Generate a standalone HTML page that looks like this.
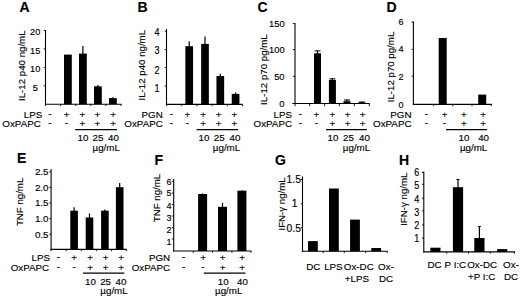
<!DOCTYPE html>
<html><head><meta charset="utf-8"><style>
html,body{margin:0;padding:0;background:#fff;width:520px;height:298px;overflow:hidden}
svg{display:block}
text{font-family:"Liberation Sans", sans-serif;fill:#000;stroke:#000;stroke-width:0.15px}
line{stroke:#000}
rect{fill:#000}
</style></head><body>
<svg width="520" height="298" viewBox="0 0 520 298">
<text x="19.60" y="11.80" font-size="14" text-anchor="start" font-weight="bold">A</text>
<line x1="45.50" y1="30.00" x2="45.50" y2="104.75" stroke-width="1.1"/>
<line x1="44.95" y1="104.20" x2="121.60" y2="104.20" stroke-width="1.1"/>
<line x1="43.70" y1="30.50" x2="45.50" y2="30.50" stroke-width="0.9"/>
<line x1="43.70" y1="48.90" x2="45.50" y2="48.90" stroke-width="0.9"/>
<line x1="43.70" y1="67.40" x2="45.50" y2="67.40" stroke-width="0.9"/>
<line x1="43.70" y1="85.80" x2="45.50" y2="85.80" stroke-width="0.9"/>
<text font-size="9.2" text-anchor="middle" font-weight="normal" transform="translate(35.20,35.40) scale(1.0,1.03)">20</text>
<text font-size="9.2" text-anchor="middle" font-weight="normal" transform="translate(35.20,53.50) scale(1.0,1.03)">15</text>
<text font-size="9.2" text-anchor="middle" font-weight="normal" transform="translate(35.20,72.20) scale(1.0,1.03)">10</text>
<text font-size="9.2" text-anchor="middle" font-weight="normal" transform="translate(35.20,90.70) scale(1.0,1.03)">5</text>
<line x1="45.50" y1="104.20" x2="45.50" y2="106.00" stroke-width="0.9"/>
<line x1="60.60" y1="104.20" x2="60.60" y2="106.00" stroke-width="0.9"/>
<line x1="75.70" y1="104.20" x2="75.70" y2="106.00" stroke-width="0.9"/>
<line x1="90.80" y1="104.20" x2="90.80" y2="106.00" stroke-width="0.9"/>
<line x1="105.90" y1="104.20" x2="105.90" y2="106.00" stroke-width="0.9"/>
<line x1="121.00" y1="104.20" x2="121.00" y2="106.00" stroke-width="0.9"/>
<rect x="64.00" y="54.60" width="7.80" height="49.60"/>
<rect x="79.00" y="53.60" width="7.80" height="50.60"/>
<rect x="94.00" y="86.30" width="7.80" height="17.90"/>
<rect x="109.00" y="98.10" width="7.80" height="6.10"/>
<line x1="82.90" y1="46.00" x2="82.90" y2="54.10" stroke-width="1.2"/>
<line x1="97.90" y1="85.00" x2="97.90" y2="86.80" stroke-width="1.2"/>
<line x1="112.90" y1="97.30" x2="112.90" y2="98.60" stroke-width="1.2"/>
<text font-size="9.7" text-anchor="middle" transform="translate(24.80,65.70) rotate(-90) scale(1,1.0)">IL-12 p40 ng/mL</text>
<text font-size="9.8" text-anchor="end" font-weight="normal" transform="translate(42.20,117.50) scale(1.0,0.93)">LPS</text>
<text font-size="9.8" text-anchor="middle" font-weight="normal" transform="translate(50.00,116.70) scale(1.0,0.93)">-</text>
<text font-size="9.8" text-anchor="middle" font-weight="normal" transform="translate(66.50,117.50) scale(1.0,0.93)">+</text>
<text font-size="9.8" text-anchor="middle" font-weight="normal" transform="translate(82.30,117.50) scale(1.0,0.93)">+</text>
<text font-size="9.8" text-anchor="middle" font-weight="normal" transform="translate(97.40,117.50) scale(1.0,0.93)">+</text>
<text font-size="9.8" text-anchor="middle" font-weight="normal" transform="translate(113.00,117.50) scale(1.0,0.93)">+</text>
<text font-size="9.8" text-anchor="end" font-weight="normal" transform="translate(40.80,127.00) scale(1.0,0.93)">OxPAPC</text>
<text font-size="9.8" text-anchor="middle" font-weight="normal" transform="translate(50.00,126.20) scale(1.0,0.93)">-</text>
<text font-size="9.8" text-anchor="middle" font-weight="normal" transform="translate(66.50,126.20) scale(1.0,0.93)">-</text>
<text font-size="9.8" text-anchor="middle" font-weight="normal" transform="translate(82.30,127.00) scale(1.0,0.93)">+</text>
<text font-size="9.8" text-anchor="middle" font-weight="normal" transform="translate(97.40,127.00) scale(1.0,0.93)">+</text>
<text font-size="9.8" text-anchor="middle" font-weight="normal" transform="translate(113.00,127.00) scale(1.0,0.93)">+</text>
<line x1="75.20" y1="129.70" x2="117.00" y2="129.70" stroke-width="1.3"/>
<text font-size="9.8" text-anchor="middle" font-weight="normal" transform="translate(83.00,140.60) scale(1.0,0.93)">10</text>
<text font-size="9.8" text-anchor="middle" font-weight="normal" transform="translate(98.00,140.60) scale(1.0,0.93)">25</text>
<text font-size="9.8" text-anchor="middle" font-weight="normal" transform="translate(113.50,140.60) scale(1.0,0.93)">40</text>
<text font-size="9.8" text-anchor="middle" font-weight="normal" transform="translate(106.20,150.80) scale(1.0,0.93)">&#181;g/mL</text>
<text x="137.60" y="11.80" font-size="14" text-anchor="start" font-weight="bold">B</text>
<line x1="166.50" y1="29.00" x2="166.50" y2="104.95" stroke-width="1.1"/>
<line x1="165.95" y1="104.40" x2="242.60" y2="104.40" stroke-width="1.1"/>
<line x1="164.70" y1="31.30" x2="166.50" y2="31.30" stroke-width="0.9"/>
<line x1="164.70" y1="49.60" x2="166.50" y2="49.60" stroke-width="0.9"/>
<line x1="164.70" y1="67.60" x2="166.50" y2="67.60" stroke-width="0.9"/>
<line x1="164.70" y1="86.00" x2="166.50" y2="86.00" stroke-width="0.9"/>
<text font-size="9.0" text-anchor="end" font-weight="normal" transform="translate(159.60,35.60) scale(1.0,1.2)">4</text>
<text font-size="9.0" text-anchor="end" font-weight="normal" transform="translate(159.60,54.10) scale(1.0,1.2)">3</text>
<text font-size="9.0" text-anchor="end" font-weight="normal" transform="translate(159.60,73.60) scale(1.0,1.2)">2</text>
<text font-size="9.0" text-anchor="end" font-weight="normal" transform="translate(159.60,91.60) scale(1.0,1.2)">1</text>
<line x1="166.50" y1="104.40" x2="166.50" y2="106.20" stroke-width="0.9"/>
<line x1="181.72" y1="104.40" x2="181.72" y2="106.20" stroke-width="0.9"/>
<line x1="196.94" y1="104.40" x2="196.94" y2="106.20" stroke-width="0.9"/>
<line x1="212.16" y1="104.40" x2="212.16" y2="106.20" stroke-width="0.9"/>
<line x1="227.38" y1="104.40" x2="227.38" y2="106.20" stroke-width="0.9"/>
<line x1="242.60" y1="104.40" x2="242.60" y2="106.20" stroke-width="0.9"/>
<rect x="185.35" y="46.20" width="7.70" height="58.20"/>
<rect x="201.15" y="43.90" width="7.70" height="60.50"/>
<rect x="216.45" y="76.00" width="7.70" height="28.40"/>
<rect x="231.75" y="93.90" width="7.70" height="10.50"/>
<line x1="189.20" y1="41.20" x2="189.20" y2="46.70" stroke-width="1.2"/>
<line x1="205.00" y1="36.50" x2="205.00" y2="44.40" stroke-width="1.2"/>
<line x1="220.30" y1="73.70" x2="220.30" y2="76.50" stroke-width="1.2"/>
<line x1="235.60" y1="92.60" x2="235.60" y2="94.40" stroke-width="1.2"/>
<text font-size="9.7" text-anchor="middle" transform="translate(144.60,65.20) rotate(-90) scale(1,1.0)">IL-12 p40 ng/mL</text>
<text font-size="9.8" text-anchor="end" font-weight="normal" transform="translate(162.80,117.50) scale(1.0,0.93)">PGN</text>
<text font-size="9.8" text-anchor="middle" font-weight="normal" transform="translate(171.50,116.70) scale(1.0,0.93)">-</text>
<text font-size="9.8" text-anchor="middle" font-weight="normal" transform="translate(187.30,117.50) scale(1.0,0.93)">+</text>
<text font-size="9.8" text-anchor="middle" font-weight="normal" transform="translate(203.00,117.50) scale(1.0,0.93)">+</text>
<text font-size="9.8" text-anchor="middle" font-weight="normal" transform="translate(218.50,117.50) scale(1.0,0.93)">+</text>
<text font-size="9.8" text-anchor="middle" font-weight="normal" transform="translate(234.30,117.50) scale(1.0,0.93)">+</text>
<text font-size="9.8" text-anchor="end" font-weight="normal" transform="translate(162.80,127.00) scale(1.0,0.93)">OxPAPC</text>
<text font-size="9.8" text-anchor="middle" font-weight="normal" transform="translate(171.50,126.20) scale(1.0,0.93)">-</text>
<text font-size="9.8" text-anchor="middle" font-weight="normal" transform="translate(187.30,126.20) scale(1.0,0.93)">-</text>
<text font-size="9.8" text-anchor="middle" font-weight="normal" transform="translate(203.00,127.00) scale(1.0,0.93)">+</text>
<text font-size="9.8" text-anchor="middle" font-weight="normal" transform="translate(218.50,127.00) scale(1.0,0.93)">+</text>
<text font-size="9.8" text-anchor="middle" font-weight="normal" transform="translate(234.30,127.00) scale(1.0,0.93)">+</text>
<line x1="196.60" y1="129.70" x2="238.00" y2="129.70" stroke-width="1.3"/>
<text font-size="9.8" text-anchor="middle" font-weight="normal" transform="translate(204.00,140.60) scale(1.0,0.93)">10</text>
<text font-size="9.8" text-anchor="middle" font-weight="normal" transform="translate(219.20,140.60) scale(1.0,0.93)">25</text>
<text font-size="9.8" text-anchor="middle" font-weight="normal" transform="translate(234.90,140.60) scale(1.0,0.93)">40</text>
<text font-size="9.8" text-anchor="middle" font-weight="normal" transform="translate(226.50,150.80) scale(1.0,0.93)">&#181;g/mL</text>
<text x="257.60" y="11.80" font-size="14" text-anchor="start" font-weight="bold">C</text>
<line x1="295.00" y1="23.00" x2="295.00" y2="104.05" stroke-width="1.1"/>
<line x1="292.40" y1="103.50" x2="369.80" y2="103.50" stroke-width="1.1"/>
<line x1="292.80" y1="23.60" x2="295.00" y2="23.60" stroke-width="0.9"/>
<line x1="292.80" y1="49.60" x2="295.00" y2="49.60" stroke-width="0.9"/>
<line x1="292.80" y1="76.30" x2="295.00" y2="76.30" stroke-width="0.9"/>
<text font-size="9.4" text-anchor="end" font-weight="normal" transform="translate(284.60,26.60) scale(1.0,1.05)">150</text>
<text font-size="9.4" text-anchor="end" font-weight="normal" transform="translate(284.60,52.90) scale(1.0,1.05)">100</text>
<text font-size="9.4" text-anchor="end" font-weight="normal" transform="translate(284.60,79.60) scale(1.0,1.05)">50</text>
<text font-size="9.4" text-anchor="end" font-weight="normal" transform="translate(284.60,106.60) scale(1.0,1.05)">0</text>
<line x1="295.00" y1="103.50" x2="295.00" y2="106.30" stroke-width="0.9"/>
<line x1="309.70" y1="103.50" x2="309.70" y2="106.30" stroke-width="0.9"/>
<line x1="324.60" y1="103.50" x2="324.60" y2="106.30" stroke-width="0.9"/>
<line x1="339.30" y1="103.50" x2="339.30" y2="106.30" stroke-width="0.9"/>
<line x1="354.30" y1="103.50" x2="354.30" y2="106.30" stroke-width="0.9"/>
<line x1="369.30" y1="103.50" x2="369.30" y2="106.30" stroke-width="0.9"/>
<rect x="314.00" y="53.30" width="7.00" height="50.20"/>
<rect x="328.90" y="79.90" width="7.00" height="23.60"/>
<rect x="343.50" y="101.20" width="7.00" height="2.30"/>
<rect x="358.40" y="102.30" width="7.00" height="1.20"/>
<line x1="317.50" y1="50.40" x2="317.50" y2="53.80" stroke-width="1.2"/>
<line x1="314.50" y1="50.90" x2="320.50" y2="50.90" stroke-width="1.0"/>
<line x1="332.40" y1="78.30" x2="332.40" y2="80.40" stroke-width="1.2"/>
<line x1="329.40" y1="78.80" x2="335.40" y2="78.80" stroke-width="1.0"/>
<line x1="347.00" y1="99.50" x2="347.00" y2="101.70" stroke-width="1.2"/>
<line x1="344.00" y1="100.00" x2="350.00" y2="100.00" stroke-width="1.0"/>
<line x1="361.90" y1="101.60" x2="361.90" y2="102.80" stroke-width="1.2"/>
<line x1="358.90" y1="102.10" x2="364.90" y2="102.10" stroke-width="1.0"/>
<text font-size="9.7" text-anchor="middle" transform="translate(267.00,69.60) rotate(-90) scale(1,1.0)">IL-12 p70 pg/mL</text>
<text font-size="9.8" text-anchor="end" font-weight="normal" transform="translate(292.00,117.50) scale(1.0,0.93)">LPS</text>
<text font-size="9.8" text-anchor="middle" font-weight="normal" transform="translate(300.30,116.70) scale(1.0,0.93)">-</text>
<text font-size="9.8" text-anchor="middle" font-weight="normal" transform="translate(316.40,117.50) scale(1.0,0.93)">+</text>
<text font-size="9.8" text-anchor="middle" font-weight="normal" transform="translate(332.30,117.50) scale(1.0,0.93)">+</text>
<text font-size="9.8" text-anchor="middle" font-weight="normal" transform="translate(347.50,117.50) scale(1.0,0.93)">+</text>
<text font-size="9.8" text-anchor="middle" font-weight="normal" transform="translate(362.50,117.50) scale(1.0,0.93)">+</text>
<text font-size="9.8" text-anchor="end" font-weight="normal" transform="translate(292.00,127.00) scale(1.0,0.93)">OxPAPC</text>
<text font-size="9.8" text-anchor="middle" font-weight="normal" transform="translate(300.30,126.20) scale(1.0,0.93)">-</text>
<text font-size="9.8" text-anchor="middle" font-weight="normal" transform="translate(316.40,126.20) scale(1.0,0.93)">-</text>
<text font-size="9.8" text-anchor="middle" font-weight="normal" transform="translate(332.30,127.00) scale(1.0,0.93)">+</text>
<text font-size="9.8" text-anchor="middle" font-weight="normal" transform="translate(347.50,127.00) scale(1.0,0.93)">+</text>
<text font-size="9.8" text-anchor="middle" font-weight="normal" transform="translate(362.50,127.00) scale(1.0,0.93)">+</text>
<line x1="326.00" y1="129.70" x2="367.00" y2="129.70" stroke-width="1.3"/>
<text font-size="9.8" text-anchor="middle" font-weight="normal" transform="translate(333.00,140.60) scale(1.0,0.93)">10</text>
<text font-size="9.8" text-anchor="middle" font-weight="normal" transform="translate(348.50,140.60) scale(1.0,0.93)">25</text>
<text font-size="9.8" text-anchor="middle" font-weight="normal" transform="translate(364.50,140.60) scale(1.0,0.93)">40</text>
<text font-size="9.8" text-anchor="middle" font-weight="normal" transform="translate(356.50,150.80) scale(1.0,0.93)">&#181;g/mL</text>
<text x="386.50" y="11.80" font-size="14" text-anchor="start" font-weight="bold">D</text>
<line x1="413.40" y1="21.40" x2="413.40" y2="104.95" stroke-width="1.1"/>
<line x1="412.85" y1="104.40" x2="491.80" y2="104.40" stroke-width="1.1"/>
<line x1="411.60" y1="22.10" x2="413.40" y2="22.10" stroke-width="0.9"/>
<line x1="411.60" y1="49.40" x2="413.40" y2="49.40" stroke-width="0.9"/>
<line x1="411.60" y1="76.20" x2="413.40" y2="76.20" stroke-width="0.9"/>
<text font-size="9.0" text-anchor="end" font-weight="normal" transform="translate(403.40,24.80) scale(1.0,1.05)">6</text>
<text font-size="9.0" text-anchor="end" font-weight="normal" transform="translate(403.40,52.30) scale(1.0,1.05)">4</text>
<text font-size="9.0" text-anchor="end" font-weight="normal" transform="translate(403.40,79.70) scale(1.0,1.05)">2</text>
<text font-size="9.0" text-anchor="end" font-weight="normal" transform="translate(403.40,107.50) scale(1.0,1.05)">0</text>
<line x1="433.70" y1="104.40" x2="433.70" y2="106.20" stroke-width="0.9"/>
<line x1="452.70" y1="104.40" x2="452.70" y2="106.20" stroke-width="0.9"/>
<line x1="472.00" y1="104.40" x2="472.00" y2="106.20" stroke-width="0.9"/>
<line x1="491.30" y1="104.40" x2="491.30" y2="106.20" stroke-width="0.9"/>
<rect x="438.70" y="38.00" width="8.00" height="66.40"/>
<rect x="478.20" y="94.60" width="8.00" height="9.80"/>
<text font-size="9.7" text-anchor="middle" transform="translate(394.20,67.00) rotate(-90) scale(1,1.0)">IL-12 p70 pg/mL</text>
<text font-size="9.8" text-anchor="end" font-weight="normal" transform="translate(411.50,117.50) scale(1.0,0.93)">PGN</text>
<text font-size="9.8" text-anchor="middle" font-weight="normal" transform="translate(426.30,116.70) scale(1.0,0.93)">-</text>
<text font-size="9.8" text-anchor="middle" font-weight="normal" transform="translate(444.50,117.50) scale(1.0,0.93)">+</text>
<text font-size="9.8" text-anchor="middle" font-weight="normal" transform="translate(463.80,117.50) scale(1.0,0.93)">+</text>
<text font-size="9.8" text-anchor="middle" font-weight="normal" transform="translate(483.00,117.50) scale(1.0,0.93)">+</text>
<text font-size="9.8" text-anchor="end" font-weight="normal" transform="translate(411.50,127.00) scale(1.0,0.93)">OxPAPC</text>
<text font-size="9.8" text-anchor="middle" font-weight="normal" transform="translate(426.30,126.20) scale(1.0,0.93)">-</text>
<text font-size="9.8" text-anchor="middle" font-weight="normal" transform="translate(444.50,126.20) scale(1.0,0.93)">-</text>
<text font-size="9.8" text-anchor="middle" font-weight="normal" transform="translate(463.80,127.00) scale(1.0,0.93)">+</text>
<text font-size="9.8" text-anchor="middle" font-weight="normal" transform="translate(483.00,127.00) scale(1.0,0.93)">+</text>
<line x1="446.00" y1="129.70" x2="487.20" y2="129.70" stroke-width="1.3"/>
<text font-size="9.8" text-anchor="middle" font-weight="normal" transform="translate(464.00,140.60) scale(1.0,0.93)">10</text>
<text font-size="9.8" text-anchor="middle" font-weight="normal" transform="translate(483.60,140.60) scale(1.0,0.93)">40</text>
<text font-size="9.8" text-anchor="middle" font-weight="normal" transform="translate(473.60,151.20) scale(1.0,0.93)">&#181;g/mL</text>
<text x="17.00" y="163.30" font-size="14" text-anchor="start" font-weight="bold">E</text>
<line x1="51.10" y1="169.00" x2="51.10" y2="249.95" stroke-width="1.1"/>
<line x1="50.55" y1="249.40" x2="126.60" y2="249.40" stroke-width="1.1"/>
<line x1="49.30" y1="171.80" x2="51.10" y2="171.80" stroke-width="0.9"/>
<line x1="49.30" y1="187.40" x2="51.10" y2="187.40" stroke-width="0.9"/>
<line x1="49.30" y1="203.00" x2="51.10" y2="203.00" stroke-width="0.9"/>
<line x1="49.30" y1="218.60" x2="51.10" y2="218.60" stroke-width="0.9"/>
<line x1="49.30" y1="234.20" x2="51.10" y2="234.20" stroke-width="0.9"/>
<text x="48.50" y="174.90" font-size="9.8" text-anchor="end" font-weight="normal">2.5</text>
<text x="48.50" y="190.60" font-size="9.8" text-anchor="end" font-weight="normal">2.0</text>
<text x="48.50" y="206.10" font-size="9.8" text-anchor="end" font-weight="normal">1.5</text>
<text x="48.50" y="222.10" font-size="9.8" text-anchor="end" font-weight="normal">1.0</text>
<text x="48.50" y="238.40" font-size="9.8" text-anchor="end" font-weight="normal">0.5</text>
<line x1="51.10" y1="249.40" x2="51.10" y2="251.20" stroke-width="0.9"/>
<line x1="66.20" y1="249.40" x2="66.20" y2="251.20" stroke-width="0.9"/>
<line x1="81.30" y1="249.40" x2="81.30" y2="251.20" stroke-width="0.9"/>
<line x1="96.40" y1="249.40" x2="96.40" y2="251.20" stroke-width="0.9"/>
<line x1="111.50" y1="249.40" x2="111.50" y2="251.20" stroke-width="0.9"/>
<line x1="126.60" y1="249.40" x2="126.60" y2="251.20" stroke-width="0.9"/>
<rect x="70.30" y="210.70" width="7.60" height="38.70"/>
<rect x="85.70" y="217.50" width="7.60" height="31.90"/>
<rect x="101.10" y="210.70" width="7.60" height="38.70"/>
<rect x="115.90" y="187.20" width="7.60" height="62.20"/>
<line x1="74.10" y1="207.30" x2="74.10" y2="211.20" stroke-width="1.2"/>
<line x1="89.50" y1="213.50" x2="89.50" y2="218.00" stroke-width="1.2"/>
<line x1="104.90" y1="209.60" x2="104.90" y2="211.20" stroke-width="1.2"/>
<line x1="119.70" y1="182.90" x2="119.70" y2="187.70" stroke-width="1.2"/>
<text font-size="9.7" text-anchor="middle" transform="translate(22.60,201.90) rotate(-90) scale(1,1.0)">TNF ng/mL</text>
<text font-size="9.8" text-anchor="end" font-weight="normal" transform="translate(50.00,260.70) scale(1.0,0.93)">LPS</text>
<text font-size="9.8" text-anchor="middle" font-weight="normal" transform="translate(58.30,259.90) scale(1.0,0.93)">-</text>
<text font-size="9.8" text-anchor="middle" font-weight="normal" transform="translate(74.20,260.70) scale(1.0,0.93)">+</text>
<text font-size="9.8" text-anchor="middle" font-weight="normal" transform="translate(90.00,260.70) scale(1.0,0.93)">+</text>
<text font-size="9.8" text-anchor="middle" font-weight="normal" transform="translate(105.60,260.70) scale(1.0,0.93)">+</text>
<text font-size="9.8" text-anchor="middle" font-weight="normal" transform="translate(121.20,260.70) scale(1.0,0.93)">+</text>
<text font-size="9.8" text-anchor="end" font-weight="normal" transform="translate(49.20,270.80) scale(1.0,0.93)">OxPAPC</text>
<text font-size="9.8" text-anchor="middle" font-weight="normal" transform="translate(58.30,270.00) scale(1.0,0.93)">-</text>
<text font-size="9.8" text-anchor="middle" font-weight="normal" transform="translate(74.20,270.00) scale(1.0,0.93)">-</text>
<text font-size="9.8" text-anchor="middle" font-weight="normal" transform="translate(90.00,270.80) scale(1.0,0.93)">+</text>
<text font-size="9.8" text-anchor="middle" font-weight="normal" transform="translate(105.60,270.80) scale(1.0,0.93)">+</text>
<text font-size="9.8" text-anchor="middle" font-weight="normal" transform="translate(121.20,270.80) scale(1.0,0.93)">+</text>
<line x1="83.00" y1="273.20" x2="124.30" y2="273.20" stroke-width="1.3"/>
<text font-size="9.8" text-anchor="middle" font-weight="normal" transform="translate(90.50,285.20) scale(1.0,0.93)">10</text>
<text font-size="9.8" text-anchor="middle" font-weight="normal" transform="translate(105.60,285.20) scale(1.0,0.93)">25</text>
<text font-size="9.8" text-anchor="middle" font-weight="normal" transform="translate(121.00,285.20) scale(1.0,0.93)">40</text>
<text font-size="9.8" text-anchor="middle" font-weight="normal" transform="translate(114.00,294.00) scale(1.0,0.93)">&#181;g/mL</text>
<text x="154.50" y="165.10" font-size="14" text-anchor="start" font-weight="bold">F</text>
<line x1="173.70" y1="179.00" x2="173.70" y2="251.55" stroke-width="1.1"/>
<line x1="173.15" y1="251.00" x2="251.20" y2="251.00" stroke-width="1.1"/>
<line x1="171.90" y1="181.40" x2="173.70" y2="181.40" stroke-width="0.9"/>
<line x1="171.90" y1="193.00" x2="173.70" y2="193.00" stroke-width="0.9"/>
<line x1="171.90" y1="204.50" x2="173.70" y2="204.50" stroke-width="0.9"/>
<line x1="171.90" y1="216.00" x2="173.70" y2="216.00" stroke-width="0.9"/>
<line x1="171.90" y1="227.50" x2="173.70" y2="227.50" stroke-width="0.9"/>
<line x1="171.90" y1="239.10" x2="173.70" y2="239.10" stroke-width="0.9"/>
<text font-size="9.0" text-anchor="end" font-weight="normal" transform="translate(171.60,184.90) scale(1.0,1.1)">6</text>
<text font-size="9.0" text-anchor="end" font-weight="normal" transform="translate(171.60,196.30) scale(1.0,1.1)">5</text>
<text font-size="9.0" text-anchor="end" font-weight="normal" transform="translate(171.60,209.20) scale(1.0,1.1)">4</text>
<text font-size="9.0" text-anchor="end" font-weight="normal" transform="translate(171.60,221.30) scale(1.0,1.1)">3</text>
<text font-size="9.0" text-anchor="end" font-weight="normal" transform="translate(171.60,232.90) scale(1.0,1.1)">2</text>
<text font-size="9.0" text-anchor="end" font-weight="normal" transform="translate(171.60,245.00) scale(1.0,1.1)">1</text>
<line x1="193.20" y1="251.00" x2="193.20" y2="252.80" stroke-width="0.9"/>
<line x1="212.50" y1="251.00" x2="212.50" y2="252.80" stroke-width="0.9"/>
<line x1="231.90" y1="251.00" x2="231.90" y2="252.80" stroke-width="0.9"/>
<line x1="251.00" y1="251.00" x2="251.00" y2="252.80" stroke-width="0.9"/>
<rect x="198.10" y="194.00" width="9.00" height="57.00"/>
<rect x="218.00" y="206.80" width="9.00" height="44.20"/>
<rect x="237.40" y="190.70" width="9.00" height="60.30"/>
<line x1="202.60" y1="193.50" x2="202.60" y2="194.50" stroke-width="1.2"/>
<line x1="222.50" y1="202.80" x2="222.50" y2="207.30" stroke-width="1.2"/>
<line x1="241.90" y1="190.20" x2="241.90" y2="191.20" stroke-width="1.2"/>
<text font-size="9.7" text-anchor="middle" transform="translate(159.50,198.00) rotate(-90) scale(1,1.0)">TNF ng/mL</text>
<text font-size="9.8" text-anchor="end" font-weight="normal" transform="translate(170.20,260.70) scale(1.0,0.93)">PGN</text>
<text font-size="9.8" text-anchor="middle" font-weight="normal" transform="translate(183.60,259.90) scale(1.0,0.93)">-</text>
<text font-size="9.8" text-anchor="middle" font-weight="normal" transform="translate(203.00,260.70) scale(1.0,0.93)">+</text>
<text font-size="9.8" text-anchor="middle" font-weight="normal" transform="translate(222.50,260.70) scale(1.0,0.93)">+</text>
<text font-size="9.8" text-anchor="middle" font-weight="normal" transform="translate(242.00,260.70) scale(1.0,0.93)">+</text>
<text font-size="9.8" text-anchor="end" font-weight="normal" transform="translate(170.20,270.80) scale(1.0,0.93)">OxPAPC</text>
<text font-size="9.8" text-anchor="middle" font-weight="normal" transform="translate(183.60,270.00) scale(1.0,0.93)">-</text>
<text font-size="9.8" text-anchor="middle" font-weight="normal" transform="translate(203.00,270.00) scale(1.0,0.93)">-</text>
<text font-size="9.8" text-anchor="middle" font-weight="normal" transform="translate(222.50,270.80) scale(1.0,0.93)">+</text>
<text font-size="9.8" text-anchor="middle" font-weight="normal" transform="translate(242.00,270.80) scale(1.0,0.93)">+</text>
<line x1="203.80" y1="273.20" x2="245.50" y2="273.20" stroke-width="1.3"/>
<text font-size="9.8" text-anchor="middle" font-weight="normal" transform="translate(223.30,285.20) scale(1.0,0.93)">10</text>
<text font-size="9.8" text-anchor="middle" font-weight="normal" transform="translate(242.50,285.20) scale(1.0,0.93)">40</text>
<text font-size="9.8" text-anchor="middle" font-weight="normal" transform="translate(228.70,294.00) scale(1.0,0.93)">&#181;g/mL</text>
<text x="275.00" y="165.10" font-size="14" text-anchor="start" font-weight="bold">G</text>
<line x1="302.50" y1="176.50" x2="302.50" y2="251.85" stroke-width="1.1"/>
<line x1="301.95" y1="251.30" x2="387.60" y2="251.30" stroke-width="1.1"/>
<line x1="300.70" y1="179.50" x2="302.50" y2="179.50" stroke-width="0.9"/>
<line x1="300.70" y1="203.80" x2="302.50" y2="203.80" stroke-width="0.9"/>
<line x1="300.70" y1="227.60" x2="302.50" y2="227.60" stroke-width="0.9"/>
<text font-size="10.3" text-anchor="end" font-weight="normal" transform="translate(300.90,182.60) scale(1.0,1.05)">1.5</text>
<text font-size="10.3" text-anchor="end" font-weight="normal" transform="translate(297.60,206.90) scale(1.0,1.05)">1</text>
<text font-size="10.3" text-anchor="end" font-weight="normal" transform="translate(300.90,231.50) scale(1.0,1.05)">0.5</text>
<line x1="323.20" y1="251.30" x2="323.20" y2="253.10" stroke-width="0.9"/>
<line x1="344.30" y1="251.30" x2="344.30" y2="253.10" stroke-width="0.9"/>
<line x1="365.70" y1="251.30" x2="365.70" y2="253.10" stroke-width="0.9"/>
<line x1="387.30" y1="251.30" x2="387.30" y2="253.10" stroke-width="0.9"/>
<rect x="308.00" y="241.10" width="9.80" height="10.20"/>
<rect x="329.00" y="188.50" width="9.80" height="62.80"/>
<rect x="350.10" y="219.60" width="9.80" height="31.70"/>
<rect x="371.30" y="248.00" width="9.80" height="3.30"/>
<text font-size="9.7" text-anchor="middle" transform="translate(285.20,203.90) rotate(-90) scale(1,1.0)">IFN-&#947; ng/mL</text>
<text font-size="9.8" text-anchor="middle" font-weight="normal" transform="translate(313.30,270.10) scale(1.0,0.93)">DC</text>
<text font-size="9.8" text-anchor="middle" font-weight="normal" transform="translate(333.40,270.10) scale(1.0,0.93)">LPS</text>
<text font-size="9.8" text-anchor="middle" font-weight="normal" transform="translate(358.80,270.10) scale(1.0,0.93)">Ox-DC</text>
<text font-size="9.8" text-anchor="middle" font-weight="normal" transform="translate(356.90,281.60) scale(1.0,0.93)">+LPS</text>
<text font-size="9.8" text-anchor="middle" font-weight="normal" transform="translate(386.00,270.10) scale(1.0,0.93)">Ox-</text>
<text font-size="9.8" text-anchor="middle" font-weight="normal" transform="translate(386.00,281.60) scale(1.0,0.93)">DC</text>
<text x="399.00" y="164.80" font-size="14" text-anchor="start" font-weight="bold">H</text>
<line x1="423.80" y1="171.40" x2="423.80" y2="252.45" stroke-width="1.1"/>
<line x1="423.25" y1="251.90" x2="515.00" y2="251.90" stroke-width="1.1"/>
<line x1="422.00" y1="172.40" x2="423.80" y2="172.40" stroke-width="0.9"/>
<line x1="422.00" y1="184.30" x2="423.80" y2="184.30" stroke-width="0.9"/>
<line x1="422.00" y1="198.10" x2="423.80" y2="198.10" stroke-width="0.9"/>
<line x1="422.00" y1="210.90" x2="423.80" y2="210.90" stroke-width="0.9"/>
<line x1="422.00" y1="225.00" x2="423.80" y2="225.00" stroke-width="0.9"/>
<line x1="422.00" y1="238.00" x2="423.80" y2="238.00" stroke-width="0.9"/>
<text font-size="9.0" text-anchor="end" font-weight="normal" transform="translate(419.30,175.50) scale(1.0,1.15)">6</text>
<text font-size="9.0" text-anchor="end" font-weight="normal" transform="translate(419.30,189.30) scale(1.0,1.15)">5</text>
<text font-size="9.0" text-anchor="end" font-weight="normal" transform="translate(419.30,202.70) scale(1.0,1.15)">4</text>
<text font-size="9.0" text-anchor="end" font-weight="normal" transform="translate(419.30,215.50) scale(1.0,1.15)">3</text>
<text font-size="9.0" text-anchor="end" font-weight="normal" transform="translate(419.30,228.60) scale(1.0,1.15)">2</text>
<text font-size="9.0" text-anchor="end" font-weight="normal" transform="translate(419.30,242.00) scale(1.0,1.15)">1</text>
<line x1="446.80" y1="251.90" x2="446.80" y2="253.70" stroke-width="0.9"/>
<line x1="468.60" y1="251.90" x2="468.60" y2="253.70" stroke-width="0.9"/>
<line x1="490.30" y1="251.90" x2="490.30" y2="253.70" stroke-width="0.9"/>
<line x1="514.40" y1="251.90" x2="514.40" y2="253.70" stroke-width="0.9"/>
<rect x="430.30" y="247.70" width="10.20" height="4.20"/>
<rect x="452.90" y="187.20" width="10.20" height="64.70"/>
<rect x="474.30" y="238.00" width="10.20" height="13.90"/>
<rect x="497.10" y="249.10" width="10.20" height="2.80"/>
<line x1="458.00" y1="179.00" x2="458.00" y2="187.70" stroke-width="1.2"/>
<line x1="456.50" y1="179.50" x2="459.50" y2="179.50" stroke-width="1.0"/>
<line x1="479.40" y1="226.00" x2="479.40" y2="238.50" stroke-width="1.2"/>
<line x1="477.90" y1="226.50" x2="480.90" y2="226.50" stroke-width="1.0"/>
<text font-size="9.7" text-anchor="middle" transform="translate(406.70,199.20) rotate(-90) scale(1,1.0)">IFN-&#947; ng/mL</text>
<text font-size="9.8" text-anchor="middle" font-weight="normal" transform="translate(434.60,268.10) scale(1.0,0.93)">DC</text>
<text font-size="9.8" text-anchor="middle" font-weight="normal" transform="translate(455.40,268.10) scale(1.0,0.93)">P I:C</text>
<text font-size="9.8" text-anchor="middle" font-weight="normal" transform="translate(482.20,268.10) scale(1.0,0.93)">Ox-DC</text>
<text font-size="9.8" text-anchor="middle" font-weight="normal" transform="translate(481.60,279.80) scale(1.0,0.93)">+P I:C</text>
<text font-size="9.8" text-anchor="middle" font-weight="normal" transform="translate(511.00,268.10) scale(1.0,0.93)">Ox-</text>
<text font-size="9.8" text-anchor="middle" font-weight="normal" transform="translate(511.00,279.80) scale(1.0,0.93)">DC</text>
</svg>
</body></html>
